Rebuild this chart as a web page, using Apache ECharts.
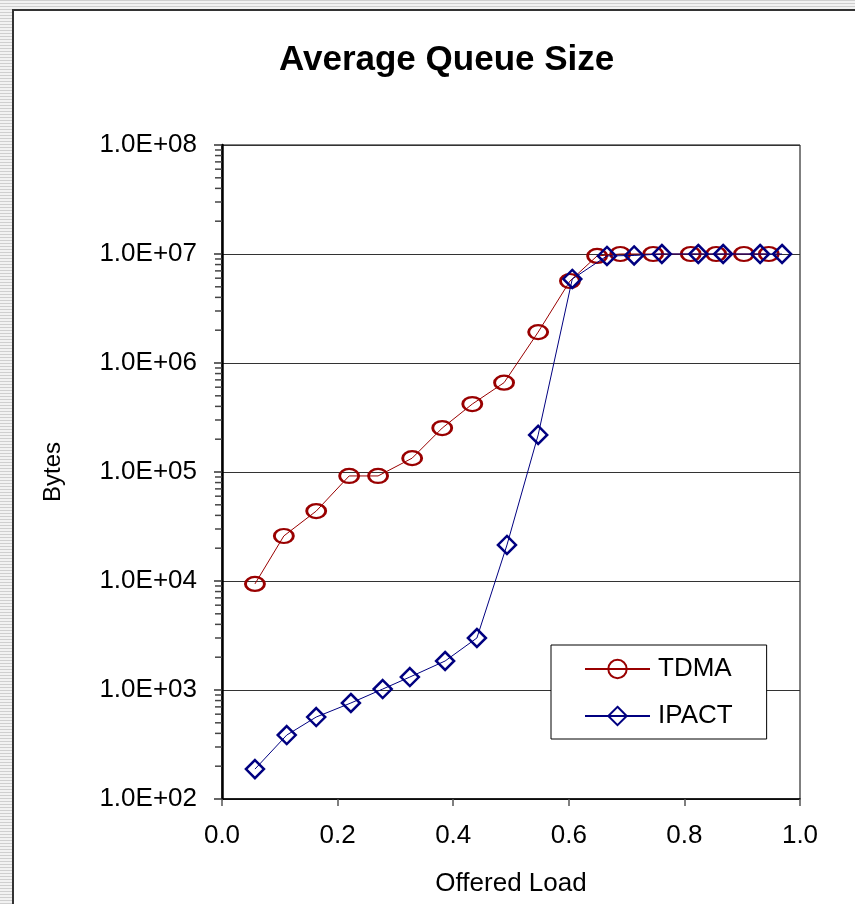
<!DOCTYPE html>
<html>
<head>
<meta charset="utf-8">
<script src="https://cdn.jsdelivr.net/npm/echarts@6/dist/echarts.min.js"></script>
<style>
  html, body { margin: 0; padding: 0; background: #fff; }
  #stripL { position: absolute; left: 0; top: 0; width: 12px; height: 904px;
    background: repeating-linear-gradient(to bottom, #cfcfcf 0px, #cfcfcf 1px, #f2f2f2 1px, #f2f2f2 3px); }
  #stripT { position: absolute; left: 0; top: 0; width: 855px; height: 9px;
    background: repeating-linear-gradient(to bottom, #cfcfcf 0px, #cfcfcf 1px, #f2f2f2 1px, #f2f2f2 3px); }
  #frame { position: absolute; left: 12px; top: 9px; width: 843px; height: 895px;
    border-left: 2px solid #333; border-top: 2px solid #333; background: #fff; box-sizing: border-box; }
  #chart { position: absolute; left: 0; top: 0; width: 855px; height: 904px; }
</style>
</head>
<body>
<div id="stripL"></div>
<div id="stripT"></div>
<div id="frame"></div>
<div id="chart"></div>
<script>
// ---- data ----
const loadTDMA  = [0.057, 0.107, 0.163, 0.220, 0.270, 0.329, 0.381, 0.433, 0.488, 0.547, 0.602, 0.649, 0.689, 0.746, 0.811, 0.855, 0.903, 0.946];
const bytesTDMA = [9400, 25900, 43800, 92000, 92000, 134000, 253000, 420000, 660000, 1920000, 5650000, 9600000, 10000000, 10000000, 10000000, 10000000, 10000000, 10000000];
const loadIPACT  = [0.057, 0.112, 0.163, 0.223, 0.278, 0.325, 0.386, 0.441, 0.493, 0.547, 0.606, 0.666, 0.713, 0.761, 0.824, 0.867, 0.931, 0.969];
const bytesIPACT = [188, 386, 565, 760, 1020, 1315, 1845, 3000, 21400, 219000, 5900000, 9600000, 9700000, 10000000, 10000000, 10000000, 10000000, 10000000];
const seriesNames = ['TDMA', 'IPACT'];
const xTicks = [0, 0.2, 0.4, 0.6, 0.8, 1.0];
const yDecades = [2, 3, 4, 5, 6, 7, 8];
const minorMultipliers = [2, 3, 4, 5, 6, 7, 8, 9];

const zip = (xs, ys) => xs.map((x, i) => [x, ys[i]]);
const minorTickData = [];
for (let d = yDecades[0]; d < yDecades[yDecades.length - 1]; d++) {
  for (const m of minorMultipliers) minorTickData.push([xTicks[0], m * Math.pow(10, d)]);
}

const chart = echarts.init(document.getElementById('chart'), null, { renderer: 'canvas' });
const FONT = 'Liberation Sans, Arial, sans-serif';

chart.setOption({
  animation: false,
  backgroundColor: 'transparent',
  title: {
    text: 'Average Queue Size',
    left: 274, top: 38,
    textStyle: { fontFamily: FONT, fontSize: 35, fontWeight: 'bold', color: '#000' }
  },
  grid: { left: 222, right: 55, top: 145, bottom: 105, show: true, borderColor: '#000', borderWidth: 1, backgroundColor: 'transparent' },
  legend: {
    data: seriesNames,
    orient: 'vertical',
    left: 551, top: 645,
    padding: [11, 34, 10, 33],
    itemGap: 21,
    itemWidth: 65, itemHeight: 23,
    backgroundColor: '#fff',
    borderColor: '#000', borderWidth: 1,
    textStyle: { fontFamily: FONT, fontSize: 26, color: '#000', padding: [0, 0, 0, 3] }
  },
  xAxis: {
    type: 'value', min: xTicks[0], max: xTicks[xTicks.length - 1], interval: 0.2,
    name: 'Offered Load', nameLocation: 'middle', nameGap: 72,
    nameTextStyle: { fontFamily: FONT, fontSize: 26, color: '#000' },
    axisLine: { show: true, lineStyle: { color: '#000', width: 1.5 } },
    axisTick: { show: true, inside: false, length: 7, lineStyle: { color: '#555', width: 1.5 } },
    axisLabel: { margin: 24, fontFamily: FONT, fontSize: 26, color: '#000', formatter: v => v.toFixed(1) },
    splitLine: { show: false }
  },
  yAxis: {
    type: 'log', logBase: 10, min: Math.pow(10, yDecades[0]), max: Math.pow(10, yDecades[yDecades.length - 1]),
    name: 'Bytes', nameLocation: 'middle', nameGap: 157, nameRotate: 90,
    nameTextStyle: { fontFamily: FONT, fontSize: 24, color: '#000' },
    axisLine: { show: true, lineStyle: { color: '#000', width: 2.5 } },
    axisTick: { show: true, inside: false, length: 8, lineStyle: { color: '#333', width: 1.5 } },
    axisLabel: {
      margin: 25, fontFamily: FONT, fontSize: 26, color: '#000',
      formatter: v => '1.0E+' + String(Math.round(Math.log10(v))).padStart(2, '0')
    },
    splitLine: { show: true, lineStyle: { color: '#333', width: 1 } }
  },
  series: [
    {
      name: 'TDMA', type: 'line', data: zip(loadTDMA, bytesTDMA),
      symbol: 'circle', symbolSize: [19, 14], showAllSymbol: true,
      lineStyle: { color: '#990000', width: 1 },
      itemStyle: { color: 'rgba(255,255,255,0)', borderColor: '#990000', borderWidth: 2.5 },
      z: 3
    },
    {
      name: 'IPACT', type: 'line', data: zip(loadIPACT, bytesIPACT),
      symbol: 'diamond', symbolSize: [18, 18], showAllSymbol: true,
      lineStyle: { color: '#000080', width: 1 },
      itemStyle: { color: 'rgba(255,255,255,0)', borderColor: '#000080', borderWidth: 2.5 },
      z: 4
    },
    {
      name: 'minorTicks', type: 'custom', data: minorTickData, silent: true, clip: false,
      encode: { x: 0, y: 1 },
      renderItem: function (params, api) {
        const p = api.coord([api.value(0), api.value(1)]);
        return { type: 'line', shape: { x1: p[0] - 7, y1: p[1], x2: p[0], y2: p[1] },
                 style: { stroke: '#444', lineWidth: 1.5 } };
      },
      z: 1
    }
  ]
});
</script>
</body>
</html>
